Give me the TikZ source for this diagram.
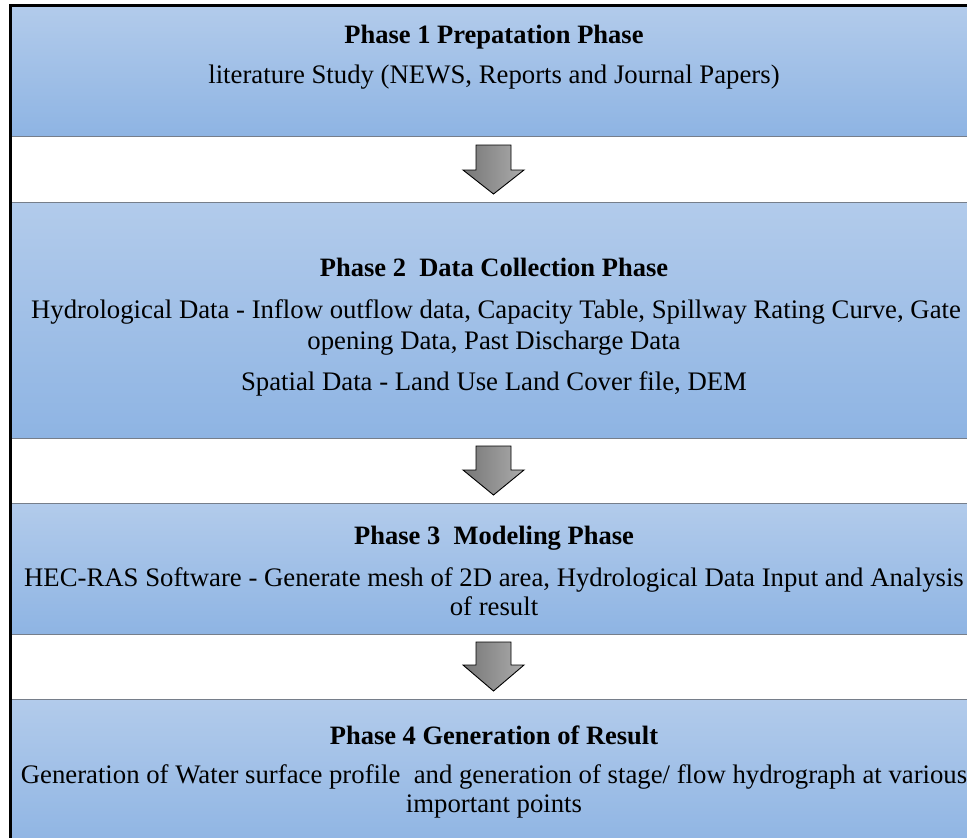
\documentclass[tikz,border=0pt]{standalone}
\usepackage{fontspec}
\setmainfont{Liberation Serif}
\definecolor{boxtop}{RGB}{178,203,235}
\definecolor{boxbot}{RGB}{142,180,227}
\definecolor{edgegray}{RGB}{118,126,138}
\definecolor{arrowdark}{RGB}{118,118,118}
\definecolor{arrowlight}{RGB}{172,172,172}
\newcommand\flowarrow[4]{% name, top, wing, tip
  \shadedraw[flowarr] (476,#2) -- (511,#2) -- (511,#3) -- (524,#3) -- (493.5,#4)
    -- (463,#3) -- (476,#3) -- cycle;
  \coordinate (#1) at (493.5,#4);}
\begin{document}
\begin{tikzpicture}[x=1pt,y=-1pt,
  txt/.style={font=\fontsize{26.75}{30}\selectfont, anchor=base, inner sep=0pt},
  ttl/.style={font=\fontsize{26.5}{30}\selectfont\bfseries, anchor=base, inner sep=0pt},
  phasebox/.style={top color=boxtop, bottom color=boxbot, draw=edgegray,
    line width=1.3pt, anchor=north west, inner sep=0pt, minimum width=975pt},
  flowarr/.style={left color=arrowdark, right color=arrowlight, draw=black, line width=0.9pt,
    line join=miter}
]
\useasboundingbox (0,0) rectangle (967,838);

% boxes
\node[phasebox, minimum height=130pt] (b1) at (11,6) {};
\node[phasebox, minimum height=236pt] (b2) at (11,202) {};
\node[phasebox, minimum height=131pt] (b3) at (11,503) {};
\node[phasebox, minimum height=150pt] (b4) at (11,699) {};

% outer frame (left and top)
\draw[line width=2.2pt] (10.5,840) -- (10.5,5.5) -- (968,5.5);

% arrows
\flowarrow{a1}{145}{170}{194}
\flowarrow{a2}{446}{470}{495}
\flowarrow{a3}{642}{665}{691}

% texts
\node[ttl] (t1) at (494,43) {Phase 1 Prepatation Phase};
\node[txt] (l1a) at (494,83) {literature Study (NEWS, Reports and Journal Papers)};

\node[ttl] (t2) at (494,276) {Phase 2\ \ Data Collection Phase};
\node[txt] (l2a) at (496,318) {Hydrological Data - Inflow outflow data, Capacity Table, Spillway Rating Curve, Gate};
\node[txt] (l2b) at (494,349) {opening Data, Past Discharge Data};
\node[txt] (l2c) at (494,390) {Spatial Data - Land Use Land Cover file, DEM};

\node[ttl] (t3) at (494,544) {Phase 3\ \ Modeling Phase};
\node[txt] (l3a) at (494,586) {HEC-RAS Software - Generate mesh of 2D area, Hydrological Data Input and Analysis};
\node[txt] (l3b) at (494,615) {of result};

\node[ttl] (t4) at (494,744) {Phase 4 Generation of Result};
\node[txt] (l4a) at (494,783) {Generation of Water surface profile\ \ and generation of stage/ flow hydrograph at various};
\node[txt] (l4b) at (494,812) {important points};
\end{tikzpicture}
\end{document}
